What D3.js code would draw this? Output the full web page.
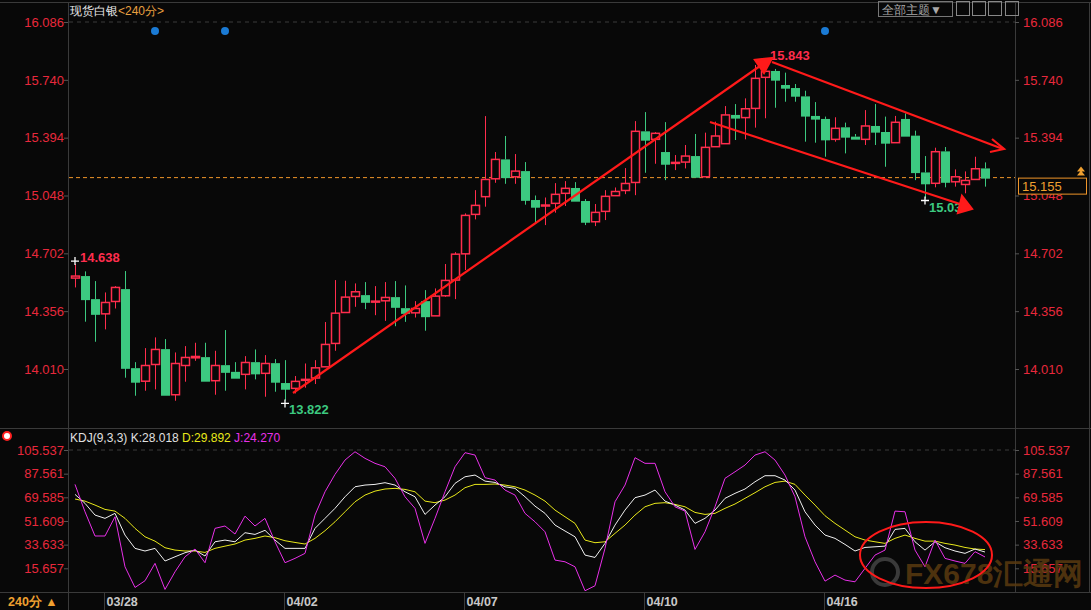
<!DOCTYPE html>
<html><head><meta charset="utf-8">
<script src="https://cdn.jsdelivr.net/npm/d3@7/dist/d3.min.js"></script>
<style>body{margin:0;background:#080808;}svg{display:block;font-family:"Liberation Sans",Arial,sans-serif;}</style>
</head><body><svg id="c" width="1091" height="610"></svg>
<script>
const opens=[14.554,14.566,14.428,14.340,14.414,14.488,14.015,13.937,14.037,14.129,13.856,14.031,14.077,14.081,13.940,14.033,13.993,13.978,14.051,13.984,14.045,13.926,13.894,13.942,13.956,14.023,14.163,14.348,14.444,14.452,14.412,14.418,14.440,14.374,14.346,14.416,14.328,14.448,14.542,14.699,14.935,15.041,15.148,15.264,15.160,15.194,15.021,14.991,15.001,15.061,15.093,15.015,14.891,14.953,15.047,15.078,15.126,15.432,15.384,15.308,15.242,15.248,15.284,15.160,15.340,15.358,15.530,15.514,15.569,15.755,15.793,15.709,15.691,15.641,15.524,15.506,15.384,15.456,15.400,15.384,15.464,15.428,15.364,15.506,15.406,15.186,15.121,15.312,15.130,15.114,15.144,15.210];
const closes=[14.566,14.428,14.340,14.408,14.498,14.017,13.934,14.031,14.127,13.856,14.043,14.079,14.085,13.940,14.031,13.993,13.958,14.049,13.984,14.043,13.934,13.892,13.936,13.948,14.017,14.157,14.344,14.440,14.472,14.412,14.416,14.438,14.382,14.346,14.372,14.326,14.446,14.540,14.697,14.929,14.989,15.144,15.264,15.158,15.194,15.022,14.981,14.991,15.055,15.091,15.017,14.891,14.947,15.043,15.072,15.120,15.432,15.382,15.420,15.238,15.246,15.284,15.160,15.336,15.404,15.530,15.514,15.567,15.749,15.791,15.741,15.693,15.645,15.526,15.508,15.384,15.450,15.400,15.388,15.464,15.430,15.364,15.486,15.406,15.188,15.121,15.310,15.130,15.160,15.138,15.208,15.155];
const highs=[14.638,14.594,14.536,14.468,14.506,14.596,14.051,14.135,14.199,14.189,14.109,14.147,14.167,14.167,14.119,14.243,14.051,14.087,14.127,14.093,14.069,14.063,13.968,14.043,14.063,14.291,14.542,14.538,14.522,14.530,14.506,14.530,14.536,14.510,14.416,14.482,14.492,14.638,14.709,14.941,15.080,15.523,15.308,15.404,15.296,15.248,15.048,15.036,15.122,15.134,15.128,15.027,14.997,15.080,15.096,15.212,15.493,15.547,15.427,15.487,15.290,15.350,15.416,15.424,15.490,15.583,15.595,15.629,15.829,15.843,15.805,15.783,15.715,15.675,15.607,15.520,15.516,15.484,15.416,15.559,15.595,15.520,15.524,15.539,15.436,15.284,15.334,15.338,15.204,15.192,15.280,15.246];
const lows=[14.498,14.293,14.173,14.247,14.372,13.958,13.850,13.880,13.888,13.856,13.820,13.934,14.059,13.940,13.856,13.880,13.958,13.888,13.948,13.844,13.874,13.822,13.864,13.898,13.920,14.119,14.119,14.382,14.382,14.368,14.332,14.298,14.266,14.292,14.318,14.239,14.328,14.442,14.428,14.602,14.905,14.981,15.124,15.118,15.118,14.993,14.881,14.871,14.945,14.985,15.017,14.871,14.865,14.901,15.047,15.056,15.050,15.184,15.238,15.140,15.200,15.210,15.160,15.160,15.340,15.356,15.380,15.384,15.454,15.510,15.573,15.609,15.609,15.370,15.364,15.280,15.370,15.300,15.388,15.350,15.350,15.220,15.364,15.406,15.140,15.030,15.097,15.097,15.101,15.061,15.144,15.101];
const kVals=[71.8,65.0,56.1,53.6,57.4,40.9,30.8,28.8,30.8,21.2,24.4,27.5,29.5,25.0,35.8,37.1,35.8,42.7,41.4,44.5,37.1,30.8,30.8,30.8,46.0,53.6,61.2,70.0,77.6,78.9,79.4,80.7,78.9,73.8,70.0,56.6,63.7,70.0,80.2,85.2,86.5,81.9,80.9,77.6,76.4,70.0,62.9,57.4,48.5,44.0,39.6,25.7,23.9,34.6,48.5,59.9,69.3,71.3,75.1,66.7,63.7,59.9,49.8,53.6,59.9,68.8,72.6,75.9,81.4,86.0,86.0,82.7,75.1,58.6,48.5,40.9,38.4,33.8,28.8,31.5,32.0,32.5,45.2,46.0,35.8,29.5,35.8,31.3,28.8,27.0,30.3,28.018];
const dVals=[68.3,66.7,63.7,60.4,59.1,53.6,46.0,39.6,36.3,31.3,29.5,28.8,28.8,27.7,30.8,32.5,34.1,37.1,38.4,40.2,38.9,36.6,35.3,34.1,38.4,44.2,51.0,58.6,66.2,71.3,74.3,75.9,76.4,75.6,73.8,66.7,65.5,67.5,71.3,76.9,79.4,79.4,79.7,78.9,77.6,75.1,71.3,66.7,59.9,54.8,49.8,37.1,35.1,35.8,42.2,48.5,56.1,62.4,65.0,65.5,64.2,62.4,58.1,56.6,57.4,61.2,64.5,68.8,73.1,77.6,80.9,81.9,79.4,71.3,63.7,55.6,49.8,44.7,39.6,37.1,35.8,34.6,38.4,40.9,38.4,36.3,36.3,34.6,33.3,31.5,30.3,29.892];
const jVals=[79.4,58.6,40.2,40.2,54.8,16.8,1.1,6.2,19.4,-0.4,13.0,24.4,30.3,19.9,46.0,47.8,41.7,55.3,47.8,53.6,35.8,19.9,23.2,27.0,56.1,73.8,87.0,97.9,104.2,99.2,95.4,92.8,84.0,70.0,61.2,34.6,53.6,73.8,92.8,103.5,101.7,84.5,82.7,75.1,71.3,57.4,51.0,43.4,21.9,20.6,16.8,-1.4,2.4,30.8,66.2,78.9,99.7,95.4,95.4,73.8,62.4,59.1,30.0,43.4,62.4,84.0,89.0,94.1,101.7,104.2,97.9,86.5,70.0,39.6,20.6,5.9,10.5,6.7,5.4,15.6,25.7,29.5,59.1,58.6,29.5,16.8,37.1,23.2,21.2,19.4,28.3,24.27];
const priceTicks=[16.086,15.740,15.394,15.048,14.702,14.356,14.010];
const kdjTicks=[105.537,87.561,69.585,51.609,33.633,15.657];
const dateLabels=[{i:3,t:"03/28"},{i:21,t:"04/02"},{i:39,t:"04/07"},{i:57,t:"04/10"},{i:75,t:"04/16"}];
const lastPrice=15.155;

const svg=d3.select("#c");
const RED="#ff2d4d",GREEN="#3cc980",AX="#e8283c";
const x=d3.scaleLinear().domain([0,91]).range([75,985]);
const y=d3.scaleLinear().domain([14.010,16.086]).range([369,22]);
const yk=d3.scaleLinear().domain([15.657,105.537]).range([568.3,450]);

// frames
svg.append("rect").attr("x",0).attr("y",0).attr("width",1091).attr("height",610).attr("fill","#080808");
const fr=svg.append("g").attr("stroke","#3a3a3a").attr("fill","none");
fr.append("line").attr("x1",0).attr("x2",1091).attr("y1",2.5).attr("y2",2.5);
fr.append("line").attr("x1",68.5).attr("x2",68.5).attr("y1",2).attr("y2",592);
fr.append("line").attr("x1",1015.5).attr("x2",1015.5).attr("y1",2).attr("y2",592);
fr.append("line").attr("x1",0).attr("x2",1091).attr("y1",428.5).attr("y2",428.5);
fr.append("line").attr("x1",0).attr("x2",1091).attr("y1",592.5).attr("y2",592.5);
fr.append("line").attr("x1",1089.5).attr("x2",1089.5).attr("y1",2).attr("y2",592);
fr.append("line").attr("x1",68.5).attr("x2",68.5).attr("y1",592).attr("y2",610);

// price axes
svg.append("g").attr("transform","translate(68,0)").call(d3.axisLeft(y).tickValues(priceTicks).tickFormat(d3.format(".3f")).tickSize(4))
 .call(g=>{g.select(".domain").remove();g.selectAll("line").attr("stroke","#555");g.selectAll("text").attr("fill",AX).attr("font-size",13).attr("x",-4);});
svg.append("g").attr("transform","translate(1015,0)").call(d3.axisRight(y).tickValues(priceTicks).tickFormat(d3.format(".3f")).tickSize(4))
 .call(g=>{g.select(".domain").remove();g.selectAll("line").attr("stroke","#555");g.selectAll("text").attr("fill",AX).attr("font-size",13).attr("x",8);});
svg.append("line").attr("x1",69).attr("x2",1015).attr("y1",y(16.086)).attr("y2",y(16.086)).attr("stroke","#3a3a3a").attr("stroke-dasharray","4,4");

// kdj axes
svg.append("g").attr("transform","translate(68,0)").call(d3.axisLeft(yk).tickValues(kdjTicks).tickFormat(d3.format(".3f")).tickSize(4))
 .call(g=>{g.select(".domain").remove();g.selectAll("line").attr("stroke","#555");g.selectAll("text").attr("fill",AX).attr("font-size",13).attr("x",-4);});
svg.append("g").attr("transform","translate(1015,0)").call(d3.axisRight(yk).tickValues(kdjTicks).tickFormat(d3.format(".3f")).tickSize(4))
 .call(g=>{g.select(".domain").remove();g.selectAll("line").attr("stroke","#555");g.selectAll("text").attr("fill",AX).attr("font-size",13).attr("x",8);});
svg.append("line").attr("x1",69).attr("x2",1015).attr("y1",yk(105.537)).attr("y2",yk(105.537)).attr("stroke","#3a3a3a").attr("stroke-dasharray","4,4");

// date axis
const dg=svg.append("g");
dateLabels.forEach(d=>{const xx=Math.round(x(d.i))-0.5;
 dg.append("line").attr("x1",xx).attr("x2",xx).attr("y1",592).attr("y2",610).attr("stroke","#3a3a3a");
 dg.append("text").attr("x",xx+2).attr("y",606).attr("fill","#c8c8c8").attr("font-size",12.5).attr("font-weight","bold").text(d.t);});

// last price line
svg.append("line").attr("x1",69).attr("x2",1015).attr("y1",y(lastPrice)).attr("y2",y(lastPrice)).attr("stroke","#f0962a").attr("stroke-dasharray","4,3");
svg.append("rect").attr("x",1018.5).attr("y",y(lastPrice)+0.5).attr("width",68).attr("height",16).attr("fill","#080808").attr("stroke","#f0962a");
svg.append("text").attr("x",1022).attr("y",y(lastPrice)+13).attr("fill","#f0a030").attr("font-size",13).text(lastPrice.toFixed(3));
svg.append("path").attr("d",`M1077,${y(lastPrice)-2} l4,-5 l4,5 z M1077,${y(lastPrice)-6} l4,-5 l4,5 z`).attr("fill","#f0a030");

// candles
const cg=svg.append("g");
opens.forEach((o,i)=>{const c=closes[i],up=c>=o,col=up?RED:GREEN,cx=Math.round(x(i))+0.5;
 const top=y(Math.max(o,c)),bot=y(Math.min(o,c));
 cg.append("line").attr("x1",cx).attr("x2",cx).attr("y1",y(highs[i])).attr("y2",top).attr("stroke",col);
 cg.append("line").attr("x1",cx).attr("x2",cx).attr("y1",bot).attr("y2",y(lows[i])).attr("stroke",col);
 const h=Math.max(1,bot-top);
 if(up) cg.append("rect").attr("x",cx-4).attr("y",top).attr("width",8).attr("height",h).attr("fill","#080808").attr("stroke",col).attr("stroke-width",1.5);
 else cg.append("rect").attr("x",cx-4.5).attr("y",top).attr("width",9).attr("height",h+1).attr("fill",col);
});

// annotations
function cross(xx,yy){svg.append("path").attr("d",`M${xx-4},${yy}h8M${xx},${yy-4}v8`).attr("stroke","#fff").attr("stroke-width",1.3);}
cross(x(0),y(14.638)-3); cross(x(21),y(13.822)+3); cross(x(85),y(15.03)+2);
svg.append("text").attr("x",80).attr("y",262).attr("fill",RED).attr("font-size",13).attr("font-weight","bold").text("14.638");
svg.append("text").attr("x",289).attr("y",414).attr("fill",GREEN).attr("font-size",13).attr("font-weight","bold").text("13.822");
svg.append("text").attr("x",770).attr("y",60).attr("fill",RED).attr("font-size",13).attr("font-weight","bold").text("15.843");
svg.append("text").attr("x",929).attr("y",212).attr("fill",GREEN).attr("font-size",13).attr("font-weight","bold").text("15.03");

// blue dots
[[155,31],[225,31],[825,31]].forEach(p=>svg.append("circle").attr("cx",p[0]).attr("cy",p[1]).attr("r",4).attr("fill","#1a7ad4"));

// trend arrows
const ar=svg.append("g").attr("stroke","#ff1a1a").attr("stroke-width",2.2).attr("fill","#ff1a1a");
ar.append("line").attr("x1",293).attr("y1",393).attr("x2",760).attr("y2",66);
ar.append("path").attr("d","M772,58 L755,60 L764,73 Z");
ar.append("line").attr("x1",772).attr("y1",62).attr("x2",1003).attr("y2",149);
ar.append("path").attr("d","M992,139 L1004,149 L990,152").attr("fill","none");
ar.append("line").attr("x1",710).attr("y1",122).attr("x2",960).attr("y2",204);
ar.append("path").attr("d","M972,209 L962,196 L958,213 Z");

// KDJ lines
const ln=d3.line().x((d,i)=>x(i)).y(d=>yk(d));
svg.append("path").attr("d",ln(dVals)).attr("fill","none").attr("stroke","#e8e81a").attr("stroke-width",1);
svg.append("path").attr("d",ln(kVals)).attr("fill","none").attr("stroke","#f0f0f0").attr("stroke-width",1);
svg.append("path").attr("d",ln(jVals)).attr("fill","none").attr("stroke","#e830e8").attr("stroke-width",1);

// watermark + ellipse
svg.append("circle").attr("cx",885).attr("cy",572).attr("r",13).attr("fill","none").attr("stroke","#3a3a3a").attr("stroke-width",4);
svg.append("text").attr("x",905).attr("y",584).attr("fill","#5a3a10").attr("font-size",30).attr("font-weight","bold").attr("opacity",0.85).text("FX678汇通网");
svg.append("ellipse").attr("cx",926).attr("cy",555).attr("rx",66).attr("ry",33).attr("fill","none").attr("stroke","#ff1a1a").attr("stroke-width",2);

// titles
const t=svg.append("text").attr("x",70).attr("y",15).attr("font-size",12);
t.append("tspan").attr("fill","#e8e8e8").text("现货白银");
t.append("tspan").attr("fill","#e8a040").text("<240分>");
const k=svg.append("text").attr("x",70).attr("y",442).attr("font-size",12);
k.append("tspan").attr("fill","#e0e0e0").text("KDJ(9,3,3) K:28.018 ");
k.append("tspan").attr("fill","#e8e81a").text(" D:29.892 ");
k.append("tspan").attr("fill","#e830e8").text(" J:24.270");
svg.append("circle").attr("cx",7).attr("cy",436).attr("r",4).attr("fill","#fff").attr("stroke","#ff2020").attr("stroke-width",2);
svg.append("text").attr("x",8).attr("y",606).attr("fill","#f0a030").attr("font-size",12.5).attr("font-weight","bold").text("240分 ▲");

// top-right buttons
svg.append("rect").attr("x",878.5).attr("y",1.5).attr("width",74).attr("height",15).attr("fill","none").attr("stroke","#777");
svg.append("text").attr("x",882).attr("y",14).attr("fill","#aaa").attr("font-size",12).text("全部主题▼");
[956,972,988,1005].forEach(bx=>svg.append("rect").attr("x",bx+0.5).attr("y",1.5).attr("width",13).attr("height",14).attr("fill","none").attr("stroke","#888"));
</script></body></html>
